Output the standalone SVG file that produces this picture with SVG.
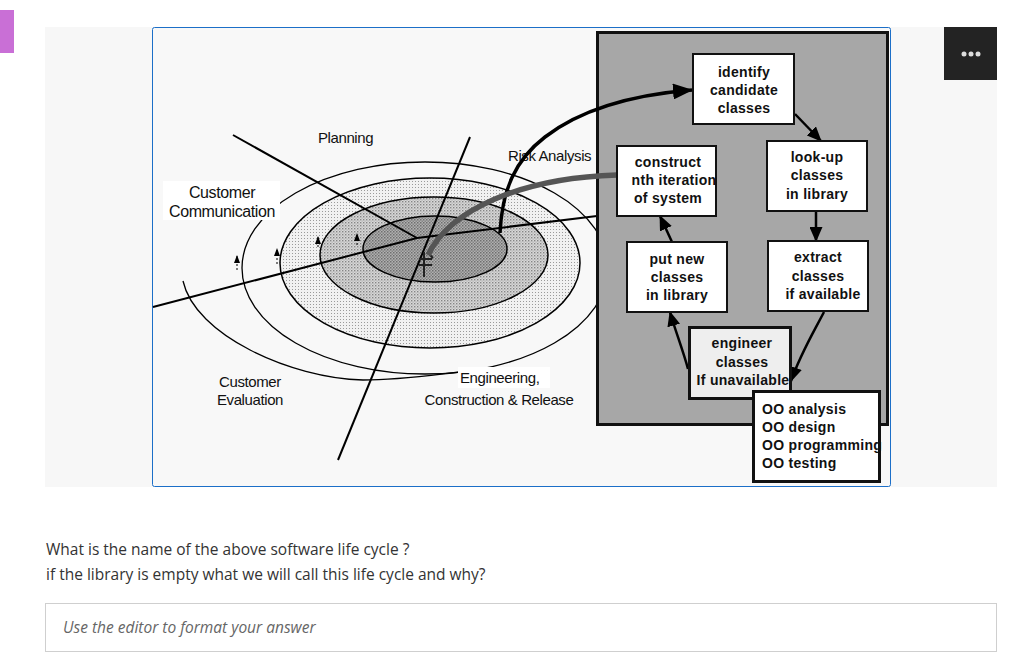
<svg xmlns="http://www.w3.org/2000/svg" width="1024" height="662" viewBox="0 0 1024 662">
<style>
.lbl{font-family:"Liberation Sans",Arial,sans-serif;font-size:15px;fill:#111;letter-spacing:-0.4px}
.bx{fill:#fff;stroke:#111;stroke-width:2}
.bt{font-family:"Liberation Sans",Arial,sans-serif;font-size:14px;font-weight:bold;fill:#111;text-anchor:middle;letter-spacing:0.3px}
.ln{stroke:#000;stroke-width:2;fill:none}
.arc{stroke:#000;stroke-width:1.3;fill:none}
.ar{stroke:#000;stroke-width:2.5;fill:none;marker-end:url(#ah)}
.page{font-family:"Open Sans","Liberation Sans",sans-serif;font-size:15.5px;fill:#333}
</style>
<defs>
<pattern id="p3" width="3" height="3" patternUnits="userSpaceOnUse"><rect width="3" height="3" fill="#f1f1f1"/><rect x="1" y="1" width="1" height="1" fill="#9a9a9a"/></pattern>
<pattern id="p2" width="3" height="3" patternUnits="userSpaceOnUse"><rect width="3" height="3" fill="#d8d8d8"/><rect x="0" y="0" width="1.4" height="1.4" fill="#858585"/><rect x="1.5" y="1.5" width="1.2" height="1.2" fill="#aaa"/></pattern>
<pattern id="p1" width="3" height="3" patternUnits="userSpaceOnUse"><rect width="3" height="3" fill="#b0b0b0"/><rect x="0" y="0" width="1.5" height="1.5" fill="#6e6e6e"/><rect x="1.5" y="1.5" width="1.5" height="1.5" fill="#858585"/></pattern>
<marker id="ah" markerWidth="15" markerHeight="13" refX="14" refY="6.5" orient="auto" markerUnits="userSpaceOnUse"><path d="M0,0 L15,6.5 L0,13 Z" fill="#000"/></marker>
<marker id="ahb" markerWidth="20" markerHeight="16" refX="19" refY="8" orient="auto" markerUnits="userSpaceOnUse"><path d="M0,0 L20,8 L0,16 Z" fill="#000"/></marker>
<marker id="sm" markerWidth="6" markerHeight="8" refX="3" refY="1" orient="0" markerUnits="userSpaceOnUse"><path d="M0,8 L3,0 L6,8 Z" fill="#000"/></marker>
</defs>

<!-- page -->
<rect width="1024" height="662" fill="#fff"/>
<rect x="0" y="10" width="14" height="43" fill="#c96fd6"/>
<rect x="45" y="27" width="952" height="460" fill="#f7f7f7"/>
<rect x="944" y="27" width="53" height="53" fill="#232323"/>
<circle cx="964" cy="54" r="2.5" fill="#ddd"/><circle cx="971" cy="54" r="2.5" fill="#ddd"/><circle cx="978" cy="54" r="2.5" fill="#ddd"/>

<!-- image frame -->
<rect x="152.5" y="27.5" width="738" height="459" rx="2" fill="#f8f8f8" stroke="#1c6fc8" stroke-width="1"/>

<!-- spiral -->
<g id="spiral">
<ellipse cx="425" cy="268" rx="183" ry="106" class="arc"/>
<ellipse cx="430" cy="263" rx="150" ry="85" fill="url(#p3)" stroke="#000" stroke-width="1.5"/>
<ellipse cx="434" cy="255" rx="114" ry="58" fill="url(#p2)" stroke="#000" stroke-width="1.5"/>
<ellipse cx="435" cy="249" rx="72" ry="33" fill="url(#p1)" stroke="#000" stroke-width="1.5"/>
<path d="M183,281 C195,335 290,378 363,380 C400,380 440,374 460,372" class="arc"/>
<path d="M237,270 L237,256" stroke="#000" stroke-width="1" stroke-dasharray="2,2" marker-end="url(#sm)"/>
<path d="M277,264 L277,249" stroke="#000" stroke-width="1" stroke-dasharray="2,2" marker-end="url(#sm)"/>
<path d="M318,247 L318,237" stroke="#000" stroke-width="1" stroke-dasharray="2,2" marker-end="url(#sm)"/>
<path d="M357,245 L357,234" stroke="#000" stroke-width="1" stroke-dasharray="2,2" marker-end="url(#sm)"/>
<path d="M233,135 L417,238" class="ln"/>
<path d="M470,137 L338,460" class="ln"/>
<path d="M153,307 L417,238 L597,216" class="ln"/>
<path d="M424,252 L424,277 M419,259 L432,259 M419,265 L432,265 M428,253 L433,258" stroke="#222" stroke-width="2" fill="none"/>
</g>

<!-- spiral labels -->
<g id="labels">
<rect x="163" y="181" width="117" height="39" fill="#fff"/>
<text class="lbl" x="222" y="198" text-anchor="middle" style="font-size:16px">Customer</text>
<text class="lbl" x="222" y="217" text-anchor="middle" style="font-size:16px">Communication</text>
<text class="lbl" x="318" y="143">Planning</text>
<text class="lbl" x="508" y="161">Risk Analysis</text>
<text class="lbl" x="250" y="387" text-anchor="middle">Customer</text>
<text class="lbl" x="250" y="405" text-anchor="middle">Evaluation</text>
<rect x="458" y="367" width="92" height="21" fill="#fff"/>
<text class="lbl" x="460" y="383">Engineering,</text>
<text class="lbl" x="499" y="405" text-anchor="middle">Construction &amp; Release</text>
</g>

<!-- grey box -->
<rect x="597.5" y="32.5" width="290" height="392" fill="#a7a7a7" stroke="#111" stroke-width="3"/>

<!-- connectors -->
<g id="connectors">
<path d="M500,233 C502,190 515,160 545,137 C580,110 630,95 692,90" stroke="#000" stroke-width="3.5" fill="none" marker-end="url(#ahb)"/>
<path d="M428,255 C450,210 520,178 617,175" stroke="#555" stroke-width="5.5" fill="none"/>
<path d="M795,114 L821,141" class="ar"/>
<path d="M816,211 L816,241" class="ar"/>
<path d="M824,312 C812,335 800,355 791,381" class="ar"/>
<path d="M688,369 C683,350 675,330 670,312" class="ar"/>
<path d="M672,242 L660,216" class="ar"/>
</g>

<!-- nodes -->
<g id="n-identify"><rect class="bx" x="693" y="54" width="101" height="70"/>
<text class="bt" x="744" y="77">identify</text><text class="bt" x="744" y="95">candidate</text><text class="bt" x="744" y="113">classes</text></g>
<g id="n-construct"><rect class="bx" x="617" y="146" width="99" height="70"/>
<text class="bt" x="668" y="167">construct</text><text class="bt" x="674" y="185">nth iteration</text><text class="bt" x="668" y="203">of system</text></g>
<g id="n-lookup"><rect class="bx" x="767" y="141" width="100" height="70"/>
<text class="bt" x="817" y="162">look-up</text><text class="bt" x="817" y="180">classes</text><text class="bt" x="817" y="199">in library</text></g>
<g id="n-putnew"><rect class="bx" x="627" y="242" width="100" height="70"/>
<text class="bt" x="677" y="264">put new</text><text class="bt" x="677" y="282">classes</text><text class="bt" x="677" y="300">in library</text></g>
<g id="n-extract"><rect class="bx" x="768" y="241" width="100" height="70"/>
<text class="bt" x="818" y="262">extract</text><text class="bt" x="818" y="281">classes</text><text class="bt" x="823" y="299">if available</text></g>
<g id="n-engineer"><rect x="689.5" y="327.5" width="101" height="71" fill="#eeeeee" stroke="#111" stroke-width="3"/>
<text class="bt" x="742" y="348">engineer</text><text class="bt" x="742" y="367">classes</text><text class="bt" x="743" y="385">If unavailable</text></g>
<g id="n-oo"><rect x="753.5" y="391.5" width="126" height="90" fill="#fff" stroke="#111" stroke-width="3"/>
<text class="bt" x="762" y="414" style="text-anchor:start">OO analysis</text>
<text class="bt" x="762" y="432" style="text-anchor:start">OO design</text>
<text class="bt" x="762" y="450" style="text-anchor:start">OO programming</text>
<text class="bt" x="762" y="468" style="text-anchor:start">OO testing</text></g>

<!-- question -->
<text class="page" x="46" y="555">What is the name of the above software life cycle ?</text>
<text class="page" x="46" y="580">if the library is empty what we will call this life cycle and why?</text>
<rect x="45.5" y="603.5" width="951" height="48" fill="#fff" stroke="#cfcfcf" stroke-width="1"/>
<text class="page" x="63" y="633" style="font-style:italic;fill:#666">Use the editor to format your answer</text>
</svg>
